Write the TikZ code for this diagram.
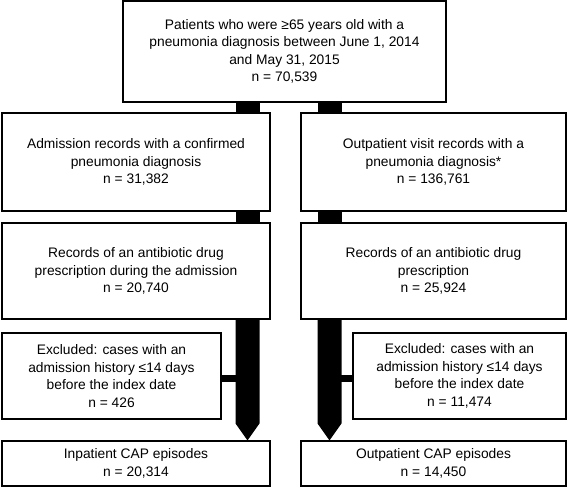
\documentclass[tikz,border=0pt]{standalone}
\usepackage{fontspec}
\setmainfont{Liberation Sans}
\usetikzlibrary{calc}
\begin{document}
\begin{tikzpicture}[x=1pt, y=-1pt,
    box/.style={draw, line width=1.1pt, align=center, inner sep=0pt,
        font=\fontsize{13.8}{17.5}\selectfont},
    bar/.style={fill=black}]
    \def\bw{12}
    \def\hd{17}
    \useasboundingbox (0,0) rectangle (568,487);
    \coordinate (lcol) at (247.5, 0);
    \coordinate (rcol) at (329.5, 0);
    % boxes
    \node[box, minimum width=323pt, minimum height=101pt] (top) at (284.5, 51.5)
        {Patients who were ≥65 years old with a\\pneumonia diagnosis between June 1, 2014\\and May 31, 2015\\n = 70,539};
    \node[box, minimum width=268pt, minimum height=98pt] (inadm) at (136, 162)
        {Admission records with a confirmed\\pneumonia diagnosis\\n = 31,382};
    \node[box, minimum width=265pt, minimum height=98pt] (outvis) at (433.5, 162)
        {Outpatient visit records with a\\pneumonia diagnosis*\\n = 136,761};
    \node[box, minimum width=268pt, minimum height=96pt] (inab) at (136, 271)
        {Records of an antibiotic drug\\prescription during the admission\\n = 20,740};
    \node[box, minimum width=265pt, minimum height=96pt] (outab) at (433.5, 271)
        {Records of an antibiotic drug\\prescription\\n = 25,924};
    \node[box, minimum width=219pt, minimum height=86pt] (inex) at (111.5, 376)
        {Excluded: cases with an\\admission history ≤14 days\\before the index date\\n = 426};
    \node[box, minimum width=213pt, minimum height=86pt] (outex) at (459.5, 376)
        {Excluded: cases with an\\admission history ≤14 days\\before the index date\\n = 11,474};
    \node[box, minimum width=268pt, minimum height=45pt] (infin) at (136, 463.5)
        {Inpatient CAP episodes\\n = 20,314};
    \node[box, minimum width=265pt, minimum height=45pt] (outfin) at (433.5, 463.5)
        {Outpatient CAP episodes\\n = 14,450};
    % short bars
    \foreach \col/\a/\b in {lcol/top/inadm, rcol/top/outvis, lcol/inadm/inab, rcol/outvis/outab}
        \fill[bar] ($(\col |- \a.south)+(-\bw,0)$) rectangle ($(\col |- \b.north)+(\bw,0)$);
    % thick arrows
    \foreach \col/\a/\b in {lcol/inab/infin, rcol/outab/outfin}
        \fill[bar] ($(\col |- \a.south)+(-\bw,0)$) -- ($(\col |- \a.south)+(\bw,0)$)
            -- ($(\col |- \b.north)+(\bw,-\hd)$) -- (\col |- \b.north)
            -- ($(\col |- \b.north)+(-\bw,-\hd)$) -- cycle;
    % side bars
    \draw[line width=7pt] ($(inex.east)+(0,2.5)$) -- ($(inex.east -| lcol)+(0,2.5)$);
    \draw[line width=7pt] ($(outex.west)+(0,2.5)$) -- ($(outex.west -| rcol)+(0,2.5)$);
\end{tikzpicture}
\end{document}
